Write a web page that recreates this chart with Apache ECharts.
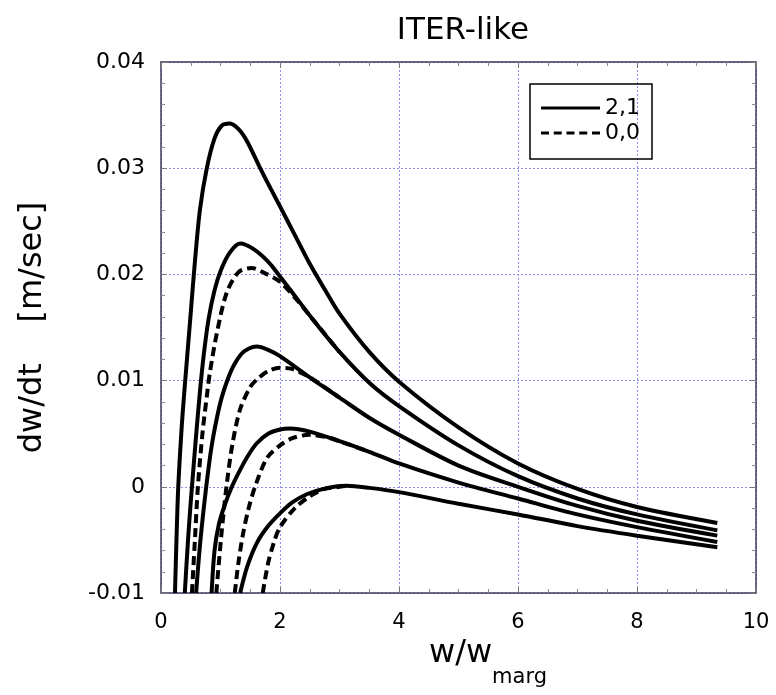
<!DOCTYPE html>
<html>
<head>
<meta charset="utf-8">
<script src="https://cdn.jsdelivr.net/npm/echarts@6/dist/echarts.min.js"></script>
<style>
  html, body { margin: 0; padding: 0; background: #fff; }
  #chart { width: 776px; height: 695px; }
</style>
</head>
<body>
<div id="chart"></div>
<script>
// tick labels
const xTicks = [0, 2, 4, 6, 8, 10];
const yTicks = [-0.01, 0, 0.01, 0.02, 0.03, 0.04];

// legend names
const names = ['2,1', '0,0'];

// (2,1) curves: [w/wmarg, dw/dt]
const solid1 = [[0.235,-0.01],[0.26,-0.005],[0.29,0],[0.35,0.0058],[0.40,0.0095],[0.49,0.0157],[0.57,0.0212],[0.655,0.0261],[0.77,0.0300],[0.9,0.0328],[1.02,0.0340],[1.15,0.0342],[1.3,0.0337],[1.45,0.0325],[1.65,0.0302],[1.85,0.0280],[2.0,0.0264],[2.25,0.0237],[2.5,0.0210],[2.75,0.0186],[3.0,0.0163],[3.5,0.0127],[4.0,0.0099],[5.0,0.0056],[6.0,0.0022],[7.0,-0.0002],[8.0,-0.0019],[9.35,-0.0034]];
const solid2 = [[0.40,-0.01],[0.46,-0.0045],[0.52,0],[0.60,0.0055],[0.655,0.0090],[0.72,0.0125],[0.80,0.0158],[0.90,0.0185],[1.0,0.0203],[1.15,0.0220],[1.33,0.0229],[1.55,0.0224],[1.8,0.0212],[2.0,0.0198],[2.3,0.0176],[2.56,0.0157],[3.0,0.0127],[3.5,0.0098],[4.0,0.0076],[5.0,0.0039],[6.0,0.0010],[7.0,-0.0011],[8.0,-0.0026],[9.35,-0.0041]];
const solid3 = [[0.59,-0.01],[0.66,-0.0052],[0.76,0],[0.85,0.0038],[0.94,0.0065],[1.02,0.0084],[1.12,0.0101],[1.22,0.0114],[1.35,0.0125],[1.47,0.0130],[1.61,0.0132],[1.8,0.0129],[2.0,0.0123],[2.5,0.0103],[3.0,0.0084],[3.5,0.0065],[4.0,0.0049],[5.0,0.0020],[6.0,0.0],[7.0,-0.0018],[8.0,-0.0032],[9.35,-0.0046]];
const solid4 = [[0.85,-0.01],[0.90,-0.0060],[0.97,-0.0036],[1.06,-0.0019],[1.19,0],[1.33,0.0016],[1.47,0.0030],[1.61,0.0041],[1.8,0.0050],[2.0,0.0054],[2.17,0.0055],[2.5,0.0052],[3.0,0.0043],[3.5,0.0033],[4.0,0.0022],[5.0,0.0004],[6.0,-0.0011],[7.0,-0.0026],[8.0,-0.0038],[9.35,-0.0052]];
const solid5 = [[1.33,-0.01],[1.45,-0.0075],[1.61,-0.0053],[1.8,-0.0037],[2.0,-0.0025],[2.2,-0.0015],[2.45,-0.0007],[2.8,-0.0001],[3.12,0.0001],[3.5,-0.0001],[4.0,-0.0005],[5.0,-0.0016],[6.0,-0.0026],[7.0,-0.0037],[8.0,-0.0046],[9.35,-0.0057]];

// (0,0) curves
const dash2 = [[0.52,-0.01],[0.57,-0.005],[0.62,0],[0.70,0.0052],[0.77,0.0085],[0.82,0.0107],[0.94,0.0145],[1.10,0.0182],[1.30,0.0202],[1.52,0.0206],[1.75,0.0201],[2.0,0.0193],[2.3,0.0175],[2.56,0.0157],[3.0,0.0127]];
const dash3 = [[0.93,-0.01],[1.01,-0.0048],[1.10,0],[1.20,0.0040],[1.33,0.0073],[1.50,0.0094],[1.61,0.0101],[1.8,0.0109],[2.0,0.0112],[2.2,0.0111],[2.5,0.0103],[3.0,0.0084]];
const dash4 = [[1.24,-0.01],[1.30,-0.0072],[1.38,-0.0044],[1.47,-0.0021],[1.58,0],[1.78,0.0027],[2.0,0.0039],[2.22,0.0046],[2.5,0.0049],[2.84,0.0046],[3.0,0.0043],[3.5,0.0033]];
const dash5 = [[1.71,-0.01],[1.8,-0.0072],[1.9,-0.0052],[2.0,-0.0038],[2.25,-0.0020],[2.5,-0.0009],[2.75,-0.0002],[3.0,0.0],[3.12,0.0001]];

const solids = [solid1, solid2, solid3, solid4, solid5];
const dashes = [dash2, dash3, dash4, dash5];

const font = 'DejaVu Sans';
const frame = '#3a3a5a';
const gridBlue = '#8f8ff0';

function lineSeries(data, name, dashed){
  return {
    name: name,
    type: 'line',
    data: data,
    symbol: 'none',
    smooth: 0.3,
    silent: true,
    lineStyle: {
      color: '#000',
      width: 4,
      type: dashed ? [9, 5] : 'solid'
    },
    itemStyle: { color: '#000' }
  };
}

function axisCommon(extra){
  return Object.assign({
    type: 'value',
    axisLine: { show: true, onZero: false, lineStyle: { color: frame, width: 1.5 } },
    axisTick: { show: true, inside: true, length: 6, lineStyle: { color: '#777' } },
    splitLine: { show: false }
  }, extra);
}

let myChart = echarts.init(document.getElementById('chart'));

let series = [];
solids.forEach(function(d, i){
  series.push(lineSeries(d, i === 0 ? names[0] : names[0] + '_' + i, false));
});
dashes.forEach(function(d, i){
  series.push(lineSeries(d, i === 0 ? names[1] : names[1] + '_' + i, true));
});

let option = {
  backgroundColor: '#fff',
  animation: false,
  title: {
    text: 'ITER-like',
    left: 458,
    textAlign: 'center',
    top: 10,
    textStyle: { fontFamily: font, fontSize: 31, fontWeight: 'normal', color: '#000' }
  },
  legend: {
    data: [
      { name: names[0], icon: 'path://M0 0H59V3H0Z' },
      { name: names[1], icon: 'path://M0 0H8V3H0ZM12.75 0H20.75V3H12.75ZM25.5 0H33.5V3H25.5ZM38.25 0H46.25V3H38.25ZM51 0H59V3H51Z' }
    ],
    orient: 'vertical',
    left: 530,
    top: 84,
    itemWidth: 59,
    itemHeight: 3,
    itemGap: 3,
    padding: [13, 12, 15, 11],
    borderColor: '#000',
    borderWidth: 1.5,
    textStyle: { fontFamily: font, fontSize: 22, color: '#000' },
    selectedMode: false
  },
  grid: {
    left: 161,
    right: 20,
    top: 62,
    bottom: 102
  },
  xAxis: [
    axisCommon({
      position: 'bottom',
      min: xTicks[0],
      max: xTicks[xTicks.length - 1],
      interval: 2,
      minorTick: { show: true, splitNumber: 4, length: 4, lineStyle: { color: '#888' } },
      splitLine: { show: true, lineStyle: { color: gridBlue, width: 1, type: [2, 2] } },
      axisLabel: { fontFamily: font, fontSize: 21, color: '#000', margin: 19 },
      name: '{a|w/w}{b|marg}',
      nameLocation: 'middle',
      nameGap: 45,
      nameTextStyle: {
        padding: [0, 0, 0, 59],
        rich: {
          a: { fontFamily: font, fontSize: 32, color: '#000', lineHeight: 36, verticalAlign: 'top' },
          b: { fontFamily: font, fontSize: 21, color: '#000', lineHeight: 24, padding: [29, 0, 0, 0], verticalAlign: 'top' }
        }
      }
    }),
    axisCommon({
      position: 'top',
      min: xTicks[0],
      max: xTicks[xTicks.length - 1],
      interval: 2,
      minorTick: { show: true, splitNumber: 4, length: 4, lineStyle: { color: '#888' } },
      axisLabel: { show: false }
    })
  ],
  yAxis: [
    axisCommon({
      position: 'left',
      min: yTicks[0],
      max: yTicks[yTicks.length - 1],
      interval: 0.01,
      minorTick: { show: true, splitNumber: 5, length: 4, lineStyle: { color: '#888' } },
      splitLine: { show: true, lineStyle: { color: gridBlue, width: 1, type: [2, 2] } },
      axisLabel: { fontFamily: font, fontSize: 22, color: '#000', margin: 16 },
      name: 'dw/dt    [m/sec]',
      nameLocation: 'middle',
      nameGap: 112,
      nameTextStyle: { fontFamily: font, fontSize: 32, color: '#000' }
    }),
    axisCommon({
      position: 'right',
      min: yTicks[0],
      max: yTicks[yTicks.length - 1],
      interval: 0.01,
      minorTick: { show: true, splitNumber: 5, length: 4, lineStyle: { color: '#888' } },
      axisLabel: { show: false }
    })
  ],
  series: series
};
myChart.setOption(option);
</script>
</body>
</html>
